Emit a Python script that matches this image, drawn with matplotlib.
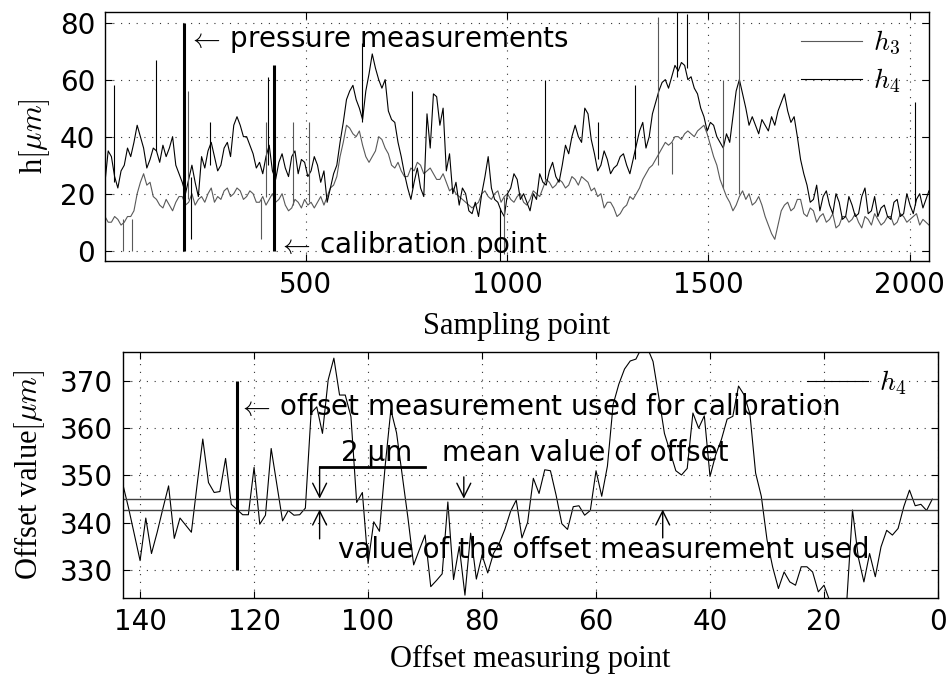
import numpy as np
import matplotlib
matplotlib.use('Agg')
import matplotlib.pyplot as plt

plt.rcParams['font.family'] = ['DejaVu Sans']
plt.rcParams['mathtext.fontset'] = 'cm'
plt.rcParams['font.size'] = 20

# ------------------------------------------------------------------------
# top panel: film thickness h3 / h4 vs sampling point
# values read every 16th sample, plus the in-between samples (noise envelope)
samp_pts = np.r_[np.arange(1, 2034, 16), 2048]
mid_pts = np.arange(9, 2026, 16)
h3 = [12, 10, 11, 10, 12, 20, 27, 24, 18, 15, 16, 17, 19, 17, 16, 19, 20, 17, 18, 22,
      20, 21, 19, 20, 17, 16, 20, 18, 16, 15, 17, 18, 17,
      17, 16, 22, 26, 38, 43, 40, 37, 31, 35, 39, 34, 29, 28, 26, 28, 30, 28, 27, 25,
      24, 22, 19, 17, 15, 17, 21, 18, 21, 19, 18, 19,
      17, 18, 20, 22, 24, 23, 24, 23, 25, 26, 24, 22, 20, 17, 15, 13, 16, 18, 22, 27,
      30, 34, 38, 38, 40, 41, 41, 42, 44, 37, 30,
      22, 17, 16, 21, 20, 17, 16, 9, 4, 14, 17, 15, 18, 12, 14, 12, 10, 13, 9, 12,
      11, 10, 12, 9, 11, 10, 12, 10, 12, 11, 13, 11, 9]
h3_mid = [10, 12, 9, 12, 14, 24, 23, 19, 16, 18, 14, 19, 16, 20, 18, 17, 22, 19, 21, 19,
          22, 18, 21, 17, 19, 18, 17, 20, 14, 18, 15, 16,
          15, 19, 19, 23, 33, 44, 41, 42, 33, 33, 40, 36, 30, 31, 26, 29, 31, 27, 29, 25,
          27, 21, 20, 18, 16, 16, 20, 19, 20, 17, 20, 17,
          20, 16, 21, 19, 25, 22, 25, 22, 26, 23, 25, 21, 19, 15, 17, 12, 15, 19, 20, 25,
          29, 32, 36, 37, 40, 39, 42, 40, 43, 41, 33, 25,
          19, 14, 19, 18, 16, 19, 12, 6, 9, 16, 14, 18, 13, 15, 10, 13, 11, 8, 12, 10,
          13, 8, 11, 13, 9, 12, 9, 13, 10, 12, 9, 12]
h4 = [24, 33, 22, 30, 33, 44, 36, 32, 35, 37, 36, 30, 24, 25, 24, 33, 35, 33, 30, 38,
      44, 44, 40, 34, 31, 33, 28, 31, 29, 33, 27, 31, 28,
      30, 28, 22, 30, 45, 56, 53, 46, 62, 64, 57, 49, 45, 33, 22, 24, 22, 48, 55, 44,
      28, 20, 16, 20, 13, 12, 26, 22, 17, 12, 22, 25,
      20, 14, 18, 24, 28, 26, 30, 34, 44, 38, 48, 34, 30, 32, 29, 33, 30, 32, 42, 36,
      48, 56, 60, 61, 63, 65, 61, 55, 47, 45, 40,
      36, 38, 56, 55, 44, 44, 46, 42, 44, 52, 49, 47, 32, 23, 18, 14, 21, 13, 17, 12,
      16, 13, 22, 14, 12, 16, 11, 18, 13, 16, 18, 15, 21]
h4_mid = [35, 26, 28, 36, 38, 40, 29, 36, 31, 33, 40, 27, 20, 30, 19, 29, 38, 28, 36, 33,
          47, 40, 37, 29, 27, 37, 25, 34, 26, 35, 32, 26,
          33, 24, 17, 27, 38, 53, 58, 50, 56, 69, 60, 60, 46, 38, 27, 18, 29, 19, 36, 54,
          50, 34, 24, 22, 14, 17, 20, 33, 18, 14, 20, 27,
          18, 17, 20, 27, 23, 31, 24, 37, 40, 40, 50, 39, 28, 35, 27, 30, 34, 27, 37, 45,
          40, 52, 59, 57, 65, 66, 60, 57, 50, 42, 44, 38,
          41, 47, 60, 50, 47, 41, 44, 47, 49, 55, 45, 40, 27, 17, 23, 19, 16, 20, 11, 19,
          12, 19, 13, 19, 15, 12, 17, 12, 20, 13, 20, 13]

# single-sample spikes: position, level beside it, tip
h3_spk_x = [45, 67, 208, 389, 400, 467, 508, 992, 1375, 1409, 1536, 1576]
h3_spk_lo = [11, 11, 18, 18, 19, 16, 17, 19, 30, 38, 22, 20]
h3_spk_hi = [0, 0, 56, 4, 45, 45, 45, -1, 82, 27, 60, 85]
h4_spk_x = [24, 127, 214, 262, 405, 639, 763, 982, 1093, 1227, 1318, 1422, 1447, 2014]
h4_spk_lo = [24, 35, 26, 30, 30, 45, 22, 15, 25, 32, 32, 61, 64, 16]
h4_spk_hi = [58, 67, 4, 45, 61, 73, 56, -4, 60, 45, 58, 88, 83, 52]

press_pt, press_top = 198, 80
calib_pt, calib_top = 421, 65

# ------------------------------------------------------------------------
# bottom panel: offset value of h4 for measuring points 143 ... 1
offset_pts = np.arange(143, 0, -1)
offset_h4 = [348, 343, 337.5, 332, 341, 333.5, 338, 343, 347.8, 336.7,
             341, 339.5, 338, 348, 357.7, 348.5, 346.4, 346.6, 353.6, 343.9,
             342.8, 341.7, 341.7, 351.7, 339.7, 341.6, 355.7, 348, 340.4, 342.6,
             341.6, 341.7, 343.1, 363.2, 364.5, 358.9, 370.2, 374.8, 367, 367,
             362.4, 344.3, 346.4, 331.4, 340.2, 338.2, 352, 363.9, 359, 350,
             341, 331.1, 334.3, 337.4, 326.5, 327.8, 329.2, 344.4, 328, 335,
             324.7, 337.8, 328.1, 333.2, 329.4, 333.5, 335.6, 338.6, 342.4, 344.8,
             336.8, 340.1, 349.4, 346.2, 351.2, 351, 345.8, 339.8, 338.6, 343.4,
             343.6, 341.6, 342.6, 351, 345.6, 352, 365, 369.3, 372.5, 374.2,
             374.6, 377, 377, 374.1, 366.7, 358.9, 355, 351, 350.1, 351.5,
             363.2, 360, 362.6, 349.8, 354.4, 357.6, 361.9, 362.5, 368.9, 367,
             363, 350.5, 345.6, 336.4, 330.6, 326.1, 329.6, 327.5, 326.8, 330.7,
             330.7, 329.6, 325.4, 326.8, 323.5, 323, 323, 323.5, 342.7, 332.8,
             327.5, 333.5, 328.6, 334.9, 338.4, 337.4, 338.8, 343.4, 346.9, 343.6,
             343.9, 342.6, 345]
offset_mean = 345.1
offset_used = 342.8
used_pt = 123


# ========================================================================
def merge(x_a, y_a, x_b, y_b):
    """Put the two sets of read-off samples back in sampling order."""
    x = np.r_[x_a, x_b]
    y = np.r_[y_a, y_b]
    order = np.argsort(x)
    return x[order], y[order]


def style_axes(ax):
    ax.grid(True, color='0.2', linestyle=(0, (1, 6)), lw=0.8)
    ax.tick_params(direction='in', top=True, right=True, length=5, width=0.8,
                   pad=7, labelsize=20)
    for sp in ax.spines.values():
        sp.set_linewidth(1.0)


serif = dict(family='Liberation Serif', size=22)
arrow = dict(arrowstyle='->, head_length=0.5, head_width=0.25', lw=1.0, color='k',
             shrinkA=0, shrinkB=0)
gray = '0.35'
larrow = r'$\leftarrow\,$'

fig = plt.figure(figsize=(9.49, 6.79), dpi=100)
ax1 = fig.add_axes([0.1106, 0.6156, 0.8683, 0.3667])
ax2 = fig.add_axes([0.1296, 0.1193, 0.8588, 0.3623])

# ---- top
x3, y3 = merge(samp_pts, h3, mid_pts, h3_mid)
x4, y4 = merge(samp_pts, h4, mid_pts, h4_mid)
ax1.plot(x3, y3, color=gray, lw=0.8, label='$h_3$')
ax1.plot(x4, y4, color='k', lw=0.8, label='$h_4$')
ax1.vlines(h3_spk_x, h3_spk_lo, h3_spk_hi, color=gray, lw=0.8)
ax1.vlines(h4_spk_x, h4_spk_lo, h4_spk_hi, color='k', lw=0.8)
ax1.vlines([press_pt], 0, press_top, color='k', lw=2.2)
ax1.vlines([calib_pt], 0, calib_top, color='k', lw=2.2)
ax1.text(press_pt + 9, 74, larrow + 'pressure measurements', va='center', ha='left')
ax1.text(calib_pt + 9, 2, larrow + 'calibration point', va='center', ha='left')

ax1.set_xlim(1, 2048)
ax1.set_ylim(-3.6, 83.7)
ax1.set_xticks([500, 1000, 1500, 2000])
ax1.set_yticks([0, 20, 40, 60, 80])
style_axes(ax1)
ax1.set_xlabel('Sampling point', **serif)
ax1.set_ylabel(r'h$[\mu m]$', **serif)
ax1.xaxis.set_label_coords(0.5, -0.205)
ax1.yaxis.set_label_coords(-0.064, 0.5)
ax1.legend(loc='upper right', bbox_to_anchor=(0.985, 1.0), frameon=False, fontsize=20,
           handlelength=2.2, handletextpad=0.4, labelspacing=0.32, borderaxespad=0.2)

# ---- bottom
ax2.plot(offset_pts, offset_h4, color='k', lw=0.8, label='$h_4$')
ax2.axhline(offset_mean, color='0.25', lw=1.0)
ax2.axhline(offset_used, color='0.25', lw=1.0)
ax2.vlines([used_pt], 330, 370, color='k', lw=2.2)
ax2.text(used_pt - 0.1, 364.5, larrow + 'offset measurement used for calibration',
         va='center', ha='left')

ax2.plot([108.5, 90], [351.8, 351.8], color='k', lw=2.0)
ax2.text(104.8, 354.8, '2 \u00b5m', va='center', ha='left')
ax2.annotate('', xy=(108.5, offset_mean), xytext=(108.5, 351.8), arrowprops=arrow)
ax2.annotate('', xy=(108.5, offset_used), xytext=(108.5, 336.6), arrowprops=arrow)
ax2.text(87, 354.8, 'mean value of offset', va='center', ha='left')
ax2.annotate('', xy=(83.2, offset_mean), xytext=(83.2, 349.7), arrowprops=arrow)
ax2.text(105.2, 334.2, 'value of the offset measurement used', va='center', ha='left')
ax2.annotate('', xy=(48.3, offset_used), xytext=(48.3, 336.8), arrowprops=arrow)

ax2.set_xlim(143, 0)
ax2.set_ylim(324.1, 376.1)
ax2.set_xticks(np.arange(0, 141, 20))
ax2.set_yticks([330, 340, 350, 360, 370])
style_axes(ax2)
ax2.set_xlabel('Offset measuring point', **serif)
ax2.set_ylabel(r'Offset value$[\mu m]$', **serif)
ax2.xaxis.set_label_coords(0.5, -0.19)
ax2.yaxis.set_label_coords(-0.093, 0.5)
ax2.legend(loc='upper right', bbox_to_anchor=(0.982, 1.0), frameon=False, fontsize=20,
           handlelength=2.2, handletextpad=0.4, borderaxespad=0.2)

fig.savefig('out.png', dpi=100)
